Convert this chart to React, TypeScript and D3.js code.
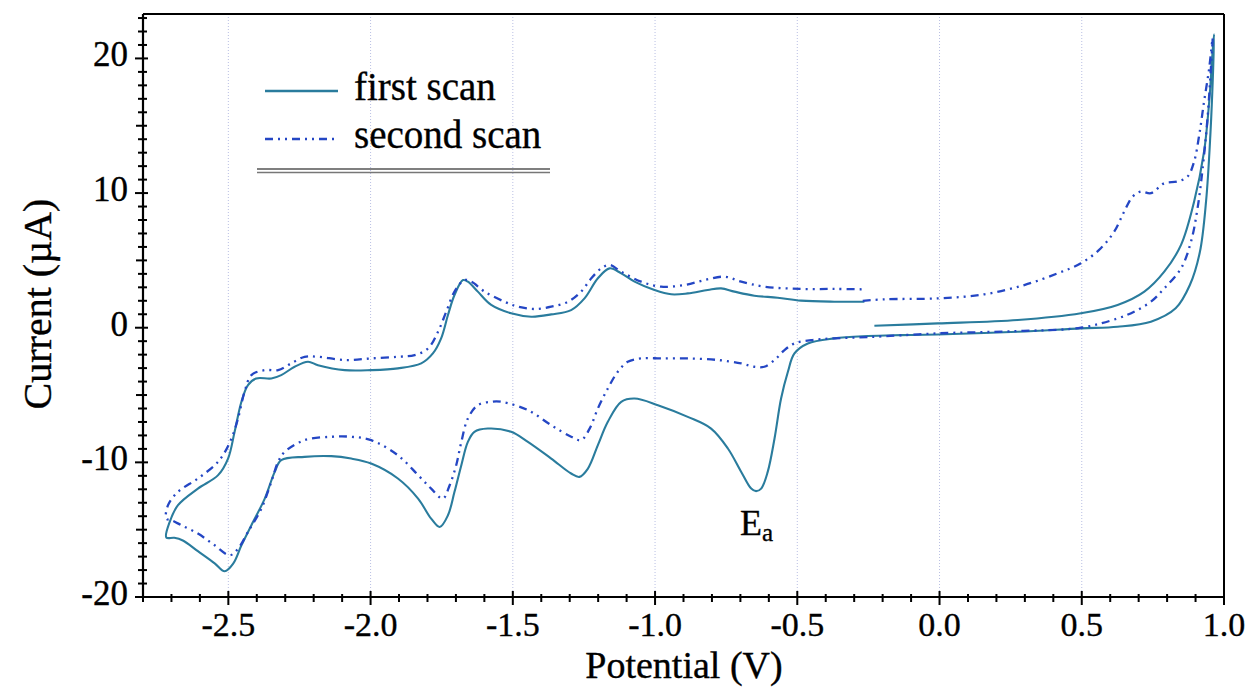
import React from "react";
import * as d3 from "d3";

// Cyclic voltammogram: potential (V) vs current (µA), two consecutive scans.
const firstScan: [number, number][] = [
  [-0.229, 0.15], [-0.006, 0.32], [0.275, 0.57], [0.497, 1.07], [0.626, 1.69], [0.72, 2.68],
  [0.79, 4.16], [0.849, 6.15], [0.895, 9.37], [0.93, 13.09], [0.948, 16.8], [0.96, 20.52], [0.965, 21.8],
  [0.962, 19.3], [0.952, 14.3], [0.937, 9.4], [0.915, 5.6], [0.88, 3.17], [0.83, 1.44], [0.743, 0.45],
  [0.626, 0.07], [0.497, -0.05], [0.275, -0.3], [-0.006, -0.5], [-0.135, -0.55], [-0.252, -0.62],
  [-0.37, -0.79], [-0.463, -1.17], [-0.51, -1.91], [-0.533, -3.27], [-0.557, -5.26], [-0.58, -8.23],
  [-0.604, -10.71], [-0.627, -11.95], [-0.645, -12.14], [-0.662, -11.95], [-0.697, -10.71],
  [-0.744, -8.97], [-0.803, -7.49], [-0.885, -6.62], [-0.99, -5.75], [-1.072, -5.26], [-1.119, -5.5],
  [-1.166, -6.99], [-1.201, -8.72], [-1.236, -10.46], [-1.266, -11.08], [-1.295, -10.83],
  [-1.365, -9.72], [-1.447, -8.48], [-1.506, -7.73], [-1.588, -7.49], [-1.635, -7.73], [-1.658, -8.48],
  [-1.681, -10.21], [-1.705, -12.19], [-1.728, -13.93], [-1.757, -14.8], [-1.787, -14.18],
  [-1.833, -12.69], [-1.904, -11.2], [-1.998, -10.09], [-2.068, -9.72], [-2.138, -9.54],
  [-2.232, -9.59], [-2.314, -9.84], [-2.337, -10.71], [-2.372, -12.69], [-2.419, -14.67],
  [-2.454, -16.16], [-2.483, -17.52], [-2.513, -18.09], [-2.548, -17.5], [-2.607, -16.6],
  [-2.66, -15.8], [-2.69, -15.6], [-2.718, -15.58],
  [-2.706, -14.42], [-2.677, -13.18], [-2.607, -11.95], [-2.536, -10.95], [-2.501, -9.72],
  [-2.478, -7.73], [-2.454, -5.5], [-2.431, -4.26], [-2.402, -3.77], [-2.349, -3.77], [-2.314, -3.52],
  [-2.267, -2.9], [-2.22, -2.53], [-2.185, -2.78], [-2.091, -3.15], [-1.998, -3.15], [-1.904, -3.02],
  [-1.822, -2.65], [-1.781, -1.91], [-1.752, -0.79], [-1.728, 0.94], [-1.705, 2.43], [-1.675, 3.54],
  [-1.658, 3.42], [-1.623, 2.68], [-1.576, 1.69], [-1.506, 1.07], [-1.435, 0.82], [-1.365, 0.99],
  [-1.295, 1.31], [-1.248, 2.18], [-1.201, 3.67], [-1.16, 4.41], [-1.119, 4.04], [-1.072, 3.42],
  [-1.002, 2.8], [-0.943, 2.48], [-0.885, 2.55], [-0.815, 2.8], [-0.768, 2.92], [-0.721, 2.68],
  [-0.651, 2.38], [-0.569, 2.23], [-0.487, 2.01], [-0.37, 1.93], [-0.264, 1.93],
];

const secondScan: [number, number][] = [
  [-0.27, 2.0], [-0.194, 2.11], [-0.006, 2.18], [0.158, 2.48], [0.298, 3.17], [0.415, 4.04],
  [0.497, 4.78], [0.567, 5.9], [0.614, 7.14], [0.649, 8.62], [0.679, 9.74], [0.708, 10.11],
  [0.743, 9.99], [0.79, 10.73], [0.837, 10.86], [0.872, 11.23], [0.895, 12.34], [0.913, 14.33],
  [0.93, 16.8], [0.948, 19.28], [0.96, 21.51],
  [0.954, 19.28], [0.942, 15.56], [0.925, 11.85], [0.907, 8.87], [0.884, 6.39], [0.849, 4.41],
  [0.79, 2.92], [0.743, 1.93], [0.684, 1.19], [0.626, 0.69], [0.497, 0.0], [0.275, -0.25],
  [-0.006, -0.42], [-0.252, -0.7], [-0.37, -0.79], [-0.451, -0.92], [-0.51, -1.17], [-0.545, -1.66],
  [-0.58, -2.4], [-0.616, -2.9], [-0.651, -2.9], [-0.697, -2.65], [-0.779, -2.4], [-0.885, -2.28],
  [-0.979, -2.28], [-1.049, -2.28], [-1.096, -2.53], [-1.131, -3.27], [-1.166, -4.51], [-1.201, -6.0],
  [-1.23, -7.49], [-1.26, -8.35], [-1.295, -8.1], [-1.365, -7.24], [-1.447, -6.12], [-1.541, -5.5],
  [-1.576, -5.5], [-1.623, -5.75], [-1.658, -6.74], [-1.681, -8.48], [-1.699, -10.21],
  [-1.722, -11.7], [-1.746, -12.69], [-1.787, -11.95], [-1.833, -10.95], [-1.904, -9.47],
  [-1.998, -8.35], [-2.068, -8.1], [-2.138, -8.1], [-2.232, -8.35], [-2.302, -9.22], [-2.325, -9.96],
  [-2.349, -11.45], [-2.384, -13.44], [-2.431, -15.17], [-2.466, -16.41], [-2.495, -16.9],
  [-2.548, -16.16], [-2.607, -15.29], [-2.665, -14.67], [-2.7, -14.3], [-2.718, -14.18],
  [-2.712, -13.18], [-2.677, -12.19], [-2.607, -11.2], [-2.548, -10.21], [-2.519, -9.47],
  [-2.489, -8.23], [-2.466, -6.74], [-2.443, -4.76], [-2.419, -3.52], [-2.372, -3.15], [-2.325, -3.15],
  [-2.279, -2.65], [-2.232, -2.16], [-2.185, -2.16], [-2.091, -2.4], [-1.998, -2.28], [-1.904, -2.16],
  [-1.845, -2.03], [-1.798, -1.54], [-1.763, -0.3], [-1.734, 1.19], [-1.705, 2.68], [-1.67, 3.54],
  [-1.646, 3.42], [-1.599, 2.68], [-1.529, 1.93], [-1.482, 1.56], [-1.424, 1.39], [-1.365, 1.56],
  [-1.306, 1.93], [-1.26, 2.68], [-1.224, 3.67], [-1.189, 4.41], [-1.16, 4.66], [-1.119, 4.16],
  [-1.049, 3.42], [-0.979, 3.05], [-0.897, 3.17], [-0.826, 3.54], [-0.756, 3.79], [-0.697, 3.42],
  [-0.616, 3.05], [-0.487, 2.88], [-0.37, 2.88], [-0.264, 2.85],
];

const xLabelTicks = [-2.5, -2.0, -1.5, -1.0, -0.5, 0.0, 0.5, 1.0];
const yLabelTicks = [-20, -10, 0, 10, 20];
const seriesNames = ["first scan", "second scan"];
const peakLabel = { v: -0.645, i: -12.14, main: "E", sub: "a" };

const W = 1248;
const H = 687;
const FONT = "'Liberation Serif', 'Times New Roman', serif";
const SOLID_COLOR = "#2a7c9d";
const DASH_COLOR = "#2446c4";
const DASH = "8,5,2,5,2,5";
// thin outline that gives the serif glyphs a slightly heavier look
const TEXT_STROKE = { stroke: "#000", strokeWidth: 0.35 };

export default function App() {
  const left = 143, right = 1224, top = 14, bottom = 597;
  const x = d3.scaleLinear().domain([-2.8, 1.0]).range([left, right]);
  const y = d3.scaleLinear().domain([-20, 23.3]).range([bottom, top]);

  const line = d3
    .line<[number, number]>()
    .x((d) => x(d[0]))
    .y((d) => y(d[1]))
    .curve(d3.curveCatmullRom.alpha(0.5));

  const xMinor = d3.range(-28, 11).map((k) => k / 10);
  const yMinor = d3.range(-20, 24);

  return (
    <svg
      width={W}
      height={H}
      viewBox={`0 0 ${W} ${H}`}
      style={{ position: "absolute", left: 0, top: 0, background: "#fff" }}
      fontFamily={FONT}
    >
      <rect width={W} height={H} fill="#fff" />

      {/* dotted vertical grid at labelled potentials */}
      {xLabelTicks.filter((v) => v < 1).map((v) => (
        <line
          key={`g${v}`}
          x1={x(v)} x2={x(v)} y1={top} y2={bottom}
          stroke="#b9bfe3" strokeWidth={1} strokeDasharray="1,2"
        />
      ))}

      {/* curves */}
      <path d={line(firstScan) ?? ""} fill="none" stroke={SOLID_COLOR} strokeWidth={2.1} strokeLinejoin="round" />
      <path d={line(secondScan) ?? ""} fill="none" stroke={DASH_COLOR} strokeWidth={2.3} strokeDasharray={DASH} />

      {/* frame */}
      <line x1={left} x2={right} y1={top} y2={top} stroke="#000" strokeWidth={2} />
      <line x1={right} x2={right} y1={top} y2={bottom} stroke="#000" strokeWidth={2} />
      <line x1={left} x2={right} y1={bottom} y2={bottom} stroke="#000" strokeWidth={2.2} />
      <line x1={left} x2={left} y1={top} y2={bottom} stroke="#000" strokeWidth={2.2} />

      {/* x ticks */}
      {xMinor.map((v) => {
        const major = Math.round(v * 10) % 5 === 0;
        return (
          <line
            key={`xt${v}`}
            x1={x(v)} x2={x(v)}
            y1={bottom - (major ? 6 : 3)} y2={bottom + (major ? 8 : 5)}
            stroke="#000" strokeWidth={2}
          />
        );
      })}
      {xLabelTicks.map((v) => (
        <text key={`xl${v}`} x={x(v)} y={636} fontSize={34} textAnchor="middle" fill="#000" {...TEXT_STROKE}>
          {d3.format(".1f")(v).replace("−", "-")}
        </text>
      ))}

      {/* y ticks */}
      {yMinor.map((v) => {
        const major = v % 10 === 0;
        const mid = v % 5 === 0;
        return (
          <line
            key={`yt${v}`}
            x1={left - (major ? 8 : mid ? 7 : 5)} x2={left + (major ? 5 : 4)}
            y1={y(v)} y2={y(v)}
            stroke="#000" strokeWidth={2}
          />
        );
      })}
      {yLabelTicks.map((v) => (
        <text key={`yl${v}`} x={128} y={y(v) + 8} fontSize={35} textAnchor="end" fill="#000" {...TEXT_STROKE}>
          {String(v)}
        </text>
      ))}

      {/* axis titles */}
      <text x={684} y={678} fontSize={38} textAnchor="middle" fill="#000" {...TEXT_STROKE}>Potential (V)</text>
      <text transform="translate(51,304) rotate(-90)" fontSize={40} textAnchor="middle" fill="#000" {...TEXT_STROKE}>
        Current (µA)
      </text>

      {/* legend */}
      <line x1={265} x2={338} y1={91} y2={91} stroke={SOLID_COLOR} strokeWidth={2.3} />
      <line x1={265} x2={338} y1={139} y2={139} stroke={DASH_COLOR} strokeWidth={2.3} strokeDasharray={DASH} />
      <text x={354} y={100} fontSize={39} fill="#000" {...TEXT_STROKE}>{seriesNames[0]}</text>
      <text x={354} y={148} fontSize={39} fill="#000" {...TEXT_STROKE}>{seriesNames[1]}</text>
      <line x1={257} x2={550} y1={169} y2={169} stroke="#555" strokeWidth={1.5} />
      <line x1={257} x2={550} y1={172.5} y2={172.5} stroke="#777" strokeWidth={1.5} />

      {/* peak annotation */}
      <text x={x(peakLabel.v) - 16} y={y(peakLabel.i) + 44} fontSize={36} fill="#000" {...TEXT_STROKE}>
        {peakLabel.main}
        <tspan fontSize={25} dy={6}>{peakLabel.sub}</tspan>
      </text>
    </svg>
  );
}
